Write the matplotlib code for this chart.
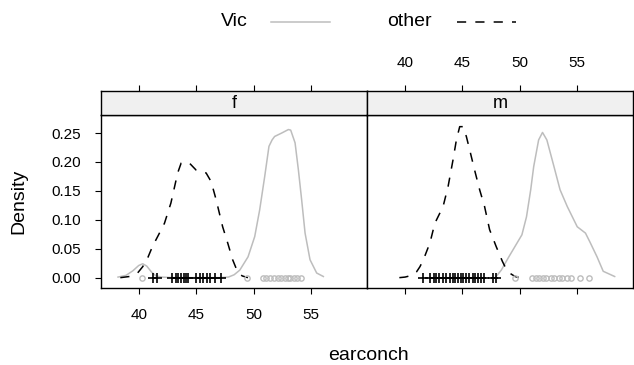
import numpy as np
import matplotlib
matplotlib.use('Agg')
import matplotlib.pyplot as plt
from matplotlib.lines import Line2D

plt.rcParams['font.family'] = ['Liberation Sans', 'DejaVu Sans']

# density curves (earconch, density)
f_other_x = [38.4, 39.2, 39.9, 40.35, 40.8, 41.2, 41.7, 42.24, 42.8, 43.39, 43.69, 44.05, 44.41,
             44.99, 45.5, 45.86, 46.3, 46.73, 47.3, 47.74, 48.17, 48.6, 49.0, 49.5]
f_other_y = [0.000, 0.002, 0.008, 0.019, 0.035, 0.054, 0.073, 0.094, 0.129, 0.181, 0.198, 0.200, 0.198,
             0.186, 0.183, 0.181, 0.166, 0.135, 0.088, 0.060, 0.031, 0.010, 0.003, 0.000]

f_vic_x = [38.2, 38.9, 39.5, 40.0, 40.35, 40.7, 41.1, 41.5, 42.0, 43.0, 44.0, 45.0, 46.0, 47.0, 47.8,
           48.3, 48.79, 49.51, 50.09, 50.52, 50.96, 51.33, 51.6, 51.82, 52.44, 53.02, 53.22, 53.6, 53.89,
           54.17, 54.47, 54.9, 55.48, 56.06]
f_vic_y = [0.001, 0.004, 0.012, 0.021, 0.024, 0.020, 0.010, 0.003, 0.001, 0.000, 0.000, 0.000, 0.000,
           0.000, 0.001, 0.005, 0.013, 0.036, 0.071, 0.117, 0.175, 0.227, 0.238, 0.244, 0.250, 0.256, 0.255,
           0.233, 0.186, 0.135, 0.077, 0.031, 0.008, 0.002]

m_other_x = [39.5, 40.0, 40.6, 41.0, 41.3, 41.6, 42.17, 42.6, 43.32, 43.76, 44.19, 44.48, 44.77, 45.06,
             45.35, 45.64, 46.07, 46.51, 46.94, 47.38, 47.95, 48.5, 48.8, 49.2, 49.6, 50.0]
m_other_y = [0.000, 0.001, 0.004, 0.010, 0.019, 0.031, 0.060, 0.094, 0.123, 0.158, 0.204, 0.238, 0.261,
             0.261, 0.244, 0.221, 0.186, 0.152, 0.123, 0.083, 0.054, 0.028, 0.016, 0.007, 0.002, 0.000]

m_vic_x = [47.95, 48.4, 49.06, 49.78, 50.2, 50.6, 50.97, 51.23, 51.66, 52.0, 52.38, 53.0, 53.53, 54.16,
           55.03, 55.75, 56.13, 56.76, 57.3, 58.3]
m_vic_y = [0.002, 0.013, 0.036, 0.060, 0.074, 0.105, 0.152, 0.192, 0.238, 0.251, 0.238, 0.192, 0.152,
           0.123, 0.088, 0.077, 0.062, 0.036, 0.011, 0.002]

# rug values
f_other_rug = [41.2, 41.6, 42.9, 43.2, 43.4, 43.7, 43.9, 44.1, 44.3, 45.0, 45.3, 45.6, 45.9, 46.2,
               46.6, 47.2]
f_vic_rug = [40.3, 49.4, 50.8, 51.1, 51.4, 51.8, 52.1, 52.4, 52.7, 53.0, 53.2, 53.5, 53.8, 54.1]
m_other_rug = [41.6, 42.2, 42.5, 42.7, 43.0, 43.3, 43.6, 43.9, 44.2, 44.4, 44.6, 44.9, 45.1, 45.3,
               45.6, 45.9, 46.1, 46.4, 46.6, 46.9, 47.7, 47.9]
m_vic_rug = [49.6, 51.1, 51.4, 51.7, 52.0, 52.3, 52.7, 53.0, 53.4, 53.7, 54.1, 54.5, 55.3, 56.1]

panels = ['f', 'm']
xticks = [40, 45, 50, 55]
yticks = [0.00, 0.05, 0.10, 0.15, 0.20, 0.25]
xlim = (36.72, 59.9)
ylim = (-0.0184, 0.2820)

gray = '#bdbdbd'
W, H = 634, 365


def box(l, t, r, b):
    return [l / W, 1 - b / H, (r - l) / W, (b - t) / H]


fig = plt.figure(figsize=(W / 100, H / 100), dpi=100)

data = {
    'f': (f_other_x, f_other_y, f_vic_x, f_vic_y, f_other_rug, f_vic_rug),
    'm': (m_other_x, m_other_y, m_vic_x, m_vic_y, m_other_rug, m_vic_rug),
}
lefts = {'f': (101, 367.5), 'm': (367.5, 633)}

for p in panels:
    l, r = lefts[p]
    ax = fig.add_axes(box(l, 114.5, r, 288.3))
    ox, oy, vx, vy, orug, vrug = data[p]
    ax.plot(vx, vy, color=gray, lw=1.1)
    ax.plot(ox, oy, color='black', lw=1.1, dashes=(6, 6))
    ax.plot(vrug, np.zeros(len(vrug)), 'o', ms=3.8, mfc='none', mec=gray, mew=1.0)
    ax.plot(orug, np.zeros(len(orug)), '+', ms=7, color='black', mew=1.2)
    ax.set_xlim(xlim)
    ax.set_ylim(ylim)
    ax.set_xticks(xticks)
    ax.set_yticks(yticks)
    for s in ax.spines.values():
        s.set_linewidth(1.0)
    ax.tick_params(length=4.5, width=0.8, labelsize=11, pad=10)
    if p == 'f':
        ax.set_yticklabels(['%.2f' % v for v in yticks])
        ax.tick_params(axis='y', left=True, right=False)
        ax.tick_params(axis='x', bottom=True, labelbottom=True)
    else:
        ax.tick_params(axis='y', left=False, labelleft=False, right=True)
        ax.tick_params(axis='x', bottom=True, labelbottom=False)

    sx = fig.add_axes(box(l, 90.5, r, 114.5))
    sx.set_facecolor('#f0f0f0')
    sx.set_xlim(xlim)
    sx.set_ylim(0, 1)
    sx.set_yticks([])
    sx.set_xticks(xticks)
    sx.xaxis.tick_top()
    sx.tick_params(axis='x', length=4.5, width=0.8, labelsize=11, pad=10,
                   labeltop=(p == 'm'), bottom=False, labelbottom=False)
    for s in sx.spines.values():
        s.set_linewidth(1.0)
    sx.text(0.5, 0.45, p, transform=sx.transAxes, ha='center', va='center', fontsize=13)

fig.text(368 / W, 1 - 356 / H, 'earconch', ha='center', va='center', fontsize=14)
fig.text(19 / W, 1 - 201 / H, 'Density', ha='center', va='center', rotation=90, fontsize=14)

# key
fig.text(221 / W, 1 - 21.5 / H, 'Vic', ha='left', va='center', fontsize=14)
fig.text(387 / W, 1 - 21.5 / H, 'other', ha='left', va='center', fontsize=14)
fig.add_artist(Line2D([271 / W, 330 / W], [1 - 21.5 / H, 1 - 21.5 / H], color=gray, lw=1.1))
fig.add_artist(Line2D([457 / W, 516 / W], [1 - 21.5 / H, 1 - 21.5 / H], color='black', lw=1.1,
                      dashes=(6, 6)))

fig.savefig('out.png', dpi=100)
